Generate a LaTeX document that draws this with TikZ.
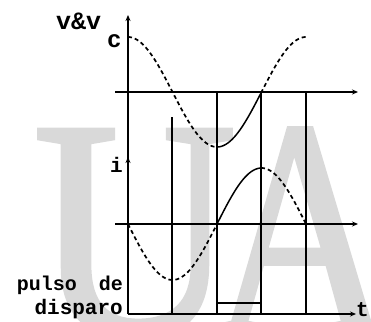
\documentclass[tikz,border=0pt]{standalone}
\usepackage{fontspec}
\setmonofont{Liberation Mono}
\newfontfamily\wmfont[FakeBold=1.5]{Liberation Serif}
\usetikzlibrary{arrows.meta}
\begin{document}
\begin{tikzpicture}[x=1pt,y=-1pt,
  ax/.style={line width=1.4pt},
  axarrow/.style={ax,-{Stealth[length=6pt,width=5pt]}},
  grid/.style={line width=1.2pt},
  curvesolid/.style={line width=1.5pt},
  curvedash/.style={line width=1.7pt,dash pattern=on 4pt off 3pt},
  lbl/.style={font=\ttfamily\bfseries, inner sep=0pt},
  wm/.style={font=\wmfont\fontsize{313}{313}\selectfont, text=black!15, inner sep=0pt}
]
\useasboundingbox (0,0) rectangle (371,321);
\begin{scope}
\clip (0,0) rectangle (371,321);
\node[wm, anchor=base, xscale=0.9] (wmU) at (135,335) {U};
\node[wm, anchor=base, xscale=0.8] (wmA) at (302,335) {A};
\end{scope}

% coordinates
\coordinate (O3) at (128,314);
\coordinate (vtop) at (128,15);
\coordinate (l1) at (115,92);
\coordinate (r1) at (358,92);
\coordinate (l2) at (115,224);
\coordinate (r2) at (358,224);
\coordinate (r3) at (356,314);
\coordinate (a1) at (172,117);
\coordinate (a1b) at (172,314);
\coordinate (b1) at (217,92);
\coordinate (b1b) at (217,314);
\coordinate (c1) at (261,92);
\coordinate (c1b) at (261,314);
\coordinate (d1) at (306,92);
\coordinate (d1b) at (306,314);
\coordinate (p1) at (217,303);
\coordinate (p2) at (261,303);
\coordinate (iarr0) at (128,172);
\coordinate (iarr) at (128,157);

% axes
\draw[axarrow] (O3) -- (vtop);
\draw[axarrow] (iarr0) -- (iarr);
\draw[axarrow] (l1) -- (r1);
\draw[axarrow] (l2) -- (r2);
\draw[axarrow] (O3) -- (r3);

% vertical lines
\draw[grid] (a1) -- (a1b);
\draw[grid] (b1) -- (b1b);
\draw[grid] (c1) -- (c1b);
\draw[grid] (d1) -- (d1b);

% pulse
\draw[grid] (p1) -- (p2);

% v_c curve
\draw[curvedash] plot[domain=128:217,samples=50,smooth] (\x,{92-55*cos(2.0225*(\x-128))});
\draw[curvesolid] plot[domain=217:261,samples=30,smooth] (\x,{92-55*cos(2.0225*(\x-128))});
\draw[curvedash] plot[domain=261:306,samples=30,smooth] (\x,{92-55*cos(2.0225*(\x-128))});

% i curve
\draw[curvedash] plot[domain=128:217,samples=50,smooth] (\x,{224+56*sin(2.0225*(\x-128))});
\draw[curvesolid] plot[domain=217:261,samples=30,smooth] (\x,{224+56*sin(2.0225*(\x-128))});
\draw[curvedash] plot[domain=261:306,samples=30,smooth] (\x,{224+56*sin(2.0225*(\x-128))});

% labels
\node[lbl, anchor=base west, font=\ttfamily\bfseries\fontsize{25}{25}\selectfont] (vv) at (56,30) {v\&v};
\node[lbl, anchor=base west, font=\ttfamily\bfseries\fontsize{24}{24}\selectfont] (c) at (107,48) {c};
\node[lbl, anchor=base east, font=\ttfamily\bfseries\fontsize{21}{21}\selectfont] (i) at (123,172) {i};
\node[lbl, anchor=base west, font=\ttfamily\bfseries\fontsize{21}{21}\selectfont] (t) at (356,316) {t};
\node[lbl, anchor=base east, font=\ttfamily\bfseries\fontsize{20}{20}\selectfont] (p) at (123,290) {pulso\hspace{22pt}de};
\node[lbl, anchor=base east, font=\ttfamily\bfseries\fontsize{21}{21}\selectfont] (d) at (123,314) {disparo};
\end{tikzpicture}
\end{document}
